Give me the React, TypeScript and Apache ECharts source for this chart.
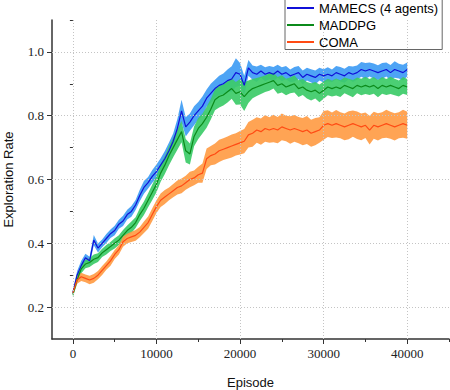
import React, { useEffect, useRef } from 'react';
import * as echarts from 'echarts';

// Episode grid (sampled every 500 episodes)
const episodes: number[] = Array.from({ length: 81 }, (_, i) => i * 500);

const mamecsMean = [
  0.245, 0.30, 0.33, 0.355, 0.345, 0.41, 0.385, 0.40, 0.415, 0.43, 0.44, 0.46, 0.47, 0.49, 0.50, 0.52, 0.55, 0.575, 0.59, 0.61, 0.625,
  0.645, 0.665, 0.69, 0.72, 0.76, 0.815, 0.765, 0.78, 0.80, 0.815, 0.83, 0.855, 0.87, 0.885, 0.895, 0.90, 0.91, 0.915, 0.935, 0.93,
  0.895, 0.95, 0.935, 0.93, 0.94, 0.93, 0.935, 0.93, 0.94, 0.93, 0.935, 0.925, 0.93, 0.935, 0.92, 0.93, 0.925, 0.92, 0.93, 0.925,
  0.93, 0.925, 0.935, 0.93, 0.925, 0.935, 0.93, 0.935, 0.945, 0.94, 0.945, 0.94, 0.935, 0.94, 0.945, 0.935, 0.945, 0.94, 0.935, 0.945,
];
const mamecsSpread = [
  0.008, 0.012, 0.015, 0.012, 0.013, 0.016, 0.014, 0.012, 0.014, 0.013, 0.015, 0.014, 0.016, 0.015, 0.017, 0.016, 0.018, 0.02, 0.018, 0.02, 0.022,
  0.022, 0.024, 0.026, 0.024, 0.03, 0.035, 0.03, 0.027, 0.03, 0.028, 0.03, 0.027, 0.03, 0.028, 0.03, 0.032, 0.035, 0.04, 0.045, 0.035,
  0.03, 0.025, 0.022, 0.024, 0.02, 0.022, 0.021, 0.023, 0.02, 0.022, 0.021, 0.02, 0.023, 0.021, 0.022, 0.02, 0.021, 0.022, 0.02, 0.021,
  0.022, 0.02, 0.021, 0.023, 0.022, 0.021, 0.024, 0.022, 0.023, 0.025, 0.022, 0.024, 0.023, 0.025, 0.022, 0.024, 0.026, 0.023, 0.025, 0.022,
];

const maddpgMean = [
  0.24, 0.285, 0.32, 0.335, 0.34, 0.35, 0.355, 0.37, 0.38, 0.39, 0.40, 0.41, 0.425, 0.44, 0.45, 0.465, 0.49, 0.51, 0.535, 0.56, 0.585,
  0.62, 0.645, 0.675, 0.70, 0.725, 0.75, 0.69, 0.68, 0.735, 0.76, 0.775, 0.795, 0.82, 0.85, 0.86, 0.865, 0.875, 0.885, 0.87, 0.875,
  0.86, 0.875, 0.885, 0.89, 0.895, 0.90, 0.905, 0.91, 0.895, 0.90, 0.89, 0.895, 0.90, 0.885, 0.89, 0.88, 0.875, 0.88, 0.87, 0.88,
  0.89, 0.885, 0.89, 0.885, 0.895, 0.89, 0.885, 0.895, 0.89, 0.895, 0.89, 0.895, 0.885, 0.895, 0.89, 0.895, 0.89, 0.885, 0.895, 0.89,
];
const maddpgSpread = [
  0.008, 0.012, 0.014, 0.013, 0.014, 0.015, 0.014, 0.013, 0.015, 0.014, 0.016, 0.015, 0.017, 0.016, 0.018, 0.017, 0.02, 0.021, 0.022, 0.024, 0.025,
  0.027, 0.028, 0.03, 0.03, 0.032, 0.033, 0.037, 0.033, 0.031, 0.033, 0.031, 0.033, 0.032, 0.033, 0.034, 0.033, 0.034, 0.032, 0.036, 0.04,
  0.045, 0.035, 0.03, 0.028, 0.027, 0.026, 0.027, 0.025, 0.026, 0.027, 0.026, 0.025, 0.027, 0.026, 0.025, 0.026, 0.027, 0.026, 0.028, 0.027,
  0.026, 0.025, 0.027, 0.026, 0.025, 0.026, 0.027, 0.025, 0.026, 0.027, 0.025, 0.026, 0.027, 0.026, 0.025, 0.027, 0.026, 0.025, 0.026, 0.025,
];

const comaMean = [
  0.245, 0.285, 0.295, 0.29, 0.285, 0.29, 0.30, 0.315, 0.33, 0.345, 0.365, 0.38, 0.405, 0.415, 0.42, 0.425, 0.435, 0.45, 0.465, 0.49, 0.515,
  0.535, 0.545, 0.555, 0.565, 0.575, 0.58, 0.59, 0.60, 0.605, 0.615, 0.62, 0.665, 0.675, 0.68, 0.69, 0.695, 0.70, 0.705, 0.71, 0.715,
  0.72, 0.74, 0.745, 0.755, 0.75, 0.76, 0.755, 0.76, 0.755, 0.765, 0.76, 0.755, 0.76, 0.755, 0.75, 0.755, 0.745, 0.75, 0.755, 0.77,
  0.775, 0.77, 0.775, 0.77, 0.765, 0.77, 0.775, 0.77, 0.765, 0.77, 0.755, 0.77, 0.765, 0.77, 0.775, 0.77, 0.765, 0.77, 0.775, 0.77,
];
const comaSpread = [
  0.008, 0.012, 0.013, 0.012, 0.013, 0.014, 0.013, 0.014, 0.013, 0.015, 0.014, 0.015, 0.016, 0.015, 0.016, 0.017, 0.016, 0.018, 0.019, 0.02, 0.02,
  0.021, 0.022, 0.02, 0.021, 0.022, 0.023, 0.022, 0.024, 0.023, 0.025, 0.03, 0.032, 0.03, 0.033, 0.035, 0.034, 0.035, 0.036, 0.035, 0.037,
  0.038, 0.04, 0.042, 0.04, 0.041, 0.042, 0.04, 0.043, 0.041, 0.042, 0.04, 0.043, 0.042, 0.041, 0.043, 0.044, 0.042, 0.043, 0.04, 0.045,
  0.042, 0.04, 0.043, 0.041, 0.042, 0.044, 0.041, 0.043, 0.042, 0.04, 0.045, 0.042, 0.043, 0.041, 0.044, 0.042, 0.043, 0.041, 0.044, 0.042,
];

const seriesNames = ['MAMECS (4 agents)', 'MADDPG', 'COMA'];
const xMajorTicks = [0, 10000, 20000, 30000, 40000];
const xMinorTicks = [5000, 15000, 25000, 35000, 45000];
const yMajorTicks = [0.2, 0.4, 0.6, 0.8, 1.0];
const yMinorTicks = [0.3, 0.5, 0.7, 0.9, 1.1];

const lineColors = ['#1010d8', '#0b8a1a', '#ff4b14'];
const bandColors = ['#3f9cf4', '#3ccb68', '#ff9c45'];

const SERIF = 'Liberation Serif';
const SANS = 'Liberation Sans';

export default function App() {
  const ref = useRef<HTMLDivElement>(null);
  useEffect(() => {
    document.body.style.margin = '0';
    if (!ref.current) return;
    const chart = echarts.init(ref.current, undefined, { renderer: 'svg' });
    const means = [mamecsMean, maddpgMean, comaMean];
    const spreads = [mamecsSpread, maddpgSpread, comaSpread];

    const bandSeries: any[] = [];
    const lineSeries: any[] = [];
    means.forEach((mean, k) => {
      const sp = spreads[k];
      const bandData = episodes.map((x, i) => [x, mean[i] - sp[i], mean[i] + sp[i]]);
      bandSeries.push({
        type: 'custom',
        name: 'band' + k,
        data: bandData,
        encode: { x: 0, y: [1, 2] },
        silent: true,
        z: 1,
        renderItem: (params: any, api: any) => {
          if (params.dataIndex !== 0) return null;
          const upper = bandData.map((d) => api.coord([d[0], d[2]]));
          const lower = bandData.map((d) => api.coord([d[0], d[1]])).reverse();
          return {
            type: 'polygon',
            shape: { points: upper.concat(lower) },
            style: { fill: bandColors[k], opacity: 0.92 },
          };
        },
      });
      lineSeries.push({
        type: 'line',
        name: seriesNames[k],
        data: episodes.map((x, i) => [x, mean[i]]),
        symbol: 'none',
        lineStyle: { color: lineColors[k], width: 1.2 },
        itemStyle: { color: lineColors[k] },
        z: 3,
      });
    });

    // Grid lines drawn as mark lines at the major tick values
    const gridSeries = {
      type: 'line',
      name: 'grid',
      data: [],
      silent: true,
      z: 0,
      markLine: {
        silent: true,
        symbol: 'none',
        label: { show: false },
        lineStyle: { color: '#c4c4c4', type: [1, 2], width: 1 },
        emphasis: { disabled: true },
        data: [
          ...xMajorTicks.map((v) => ({ xAxis: v })),
          ...yMajorTicks.map((v) => ({ yAxis: v })),
        ],
      },
    };

    const axisLineStyle = { color: '#333', width: 1.5 };
    const nameStyle = { fontFamily: SANS, fontSize: 13, color: '#111' };
    const serifRich = { s: { fontFamily: SERIF, fontSize: 13, color: '#222' } };

    chart.setOption({
      animation: false,
      grid: { left: 52, right: 1, top: 20, bottom: 51, outerBoundsMode: 'none', containLabel: false },
      legend: {
        data: seriesNames,
        orient: 'vertical',
        left: 285,
        top: -2,
        padding: [2.5, 4, 0, 2],
        itemGap: 2,
        itemWidth: 27,
        itemHeight: 2,
        icon: 'rect',
        borderColor: '#666',
        borderWidth: 1,
        backgroundColor: '#fff',
        textStyle: { fontFamily: SANS, fontSize: 13, color: '#000', lineHeight: 15 },
      },
      xAxis: [
        {
          type: 'value',
          min: -2500,
          max: 45000,
          name: 'Episode',
          nameLocation: 'middle',
          nameGap: 37,
          nameTextStyle: nameStyle,
          axisLine: { show: true, onZero: false, lineStyle: axisLineStyle },
          axisTick: { show: true, length: 5, customValues: xMajorTicks, lineStyle: { color: '#333' } },
          axisLabel: {
            fontFamily: SERIF,
            fontSize: 13,
            color: '#222',
            margin: 8,
            rich: serifRich,
            formatter: (v: number) => (xMajorTicks.includes(v) ? '{s|' + String(v) + '}' : ''),
          },
          splitLine: { show: false },
        },
        {
          type: 'value',
          min: -2500,
          max: 45000,
          position: 'bottom',
          axisLine: { show: false },
          axisTick: { show: true, length: 3, customValues: xMinorTicks, lineStyle: { color: '#333' } },
          axisLabel: { show: false },
          splitLine: { show: false },
        },
      ],
      yAxis: [
        {
          type: 'value',
          min: 0.1,
          max: 1.1,
          name: 'Exploration Rate',
          nameLocation: 'middle',
          nameGap: 37,
          nameTextStyle: nameStyle,
          axisLine: { show: true, onZero: false, lineStyle: axisLineStyle },
          axisTick: { show: true, length: 5, customValues: yMajorTicks, lineStyle: { color: '#333' } },
          axisLabel: {
            fontFamily: SERIF,
            fontSize: 13,
            color: '#222',
            margin: 8,
            rich: serifRich,
            formatter: (v: number) => (yMajorTicks.some((t) => Math.abs(t - v) < 1e-6) ? '{s|' + v.toFixed(1) + '}' : ''),
          },
          splitLine: { show: false },
        },
        {
          type: 'value',
          min: 0.1,
          max: 1.1,
          position: 'left',
          axisLine: { show: false },
          axisTick: { show: true, length: 3, customValues: yMinorTicks, lineStyle: { color: '#333' } },
          axisLabel: { show: false },
          splitLine: { show: false },
        },
      ],
      series: [gridSeries, ...bandSeries, ...lineSeries],
    });
    return () => chart.dispose();
  }, []);
  return <div ref={ref} style={{ width: 450, height: 390 }} />;
}
